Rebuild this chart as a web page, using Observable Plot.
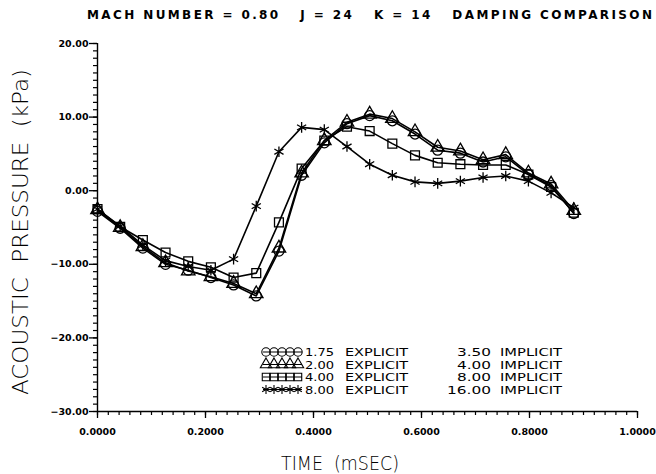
<!DOCTYPE html>
<html><head><meta charset="utf-8">
<script src="https://cdn.jsdelivr.net/npm/d3@7"></script>
<script src="https://cdn.jsdelivr.net/npm/@observablehq/plot@0.6"></script>
<style>
html,body{margin:0;padding:0;background:#fff;}
#chart{width:656px;height:474px;position:relative;}
</style></head><body><div id="chart"></div>
<script>
// ---- data ----
const times = [0, 0.042, 0.084, 0.126, 0.168, 0.21, 0.252, 0.294, 0.336, 0.378, 0.42, 0.462, 0.504, 0.546, 0.588, 0.63, 0.672, 0.714, 0.756, 0.798, 0.84, 0.882];
const circleValues   = [-2.8, -5.1, -7.8, -10.0, -10.8, -11.8, -12.8, -14.3, -8.2, 2.1, 6.5, 9.1, 10.2, 9.5, 7.7, 5.5, 5.1, 3.9, 4.6, 2.2, 0.7, -3.1];
const triangleValues = [-2.6, -5.0, -7.6, -9.8, -10.9, -11.7, -12.6, -14.0, -7.8, 2.4, 6.8, 9.3, 10.4, 9.8, 8.0, 5.9, 5.4, 4.2, 4.9, 2.4, 0.9, -2.7];
const squareValues   = [-2.5, -4.9, -6.7, -8.4, -9.6, -10.4, -11.8, -11.2, -4.3, 3.0, 6.8, 8.7, 8.1, 6.4, 4.8, 3.8, 3.6, 3.5, 3.5, 2.2, 0.5, -3.0];
const starValues     = [-2.5, -4.8, -7.4, -9.5, -10.3, -10.8, -9.3, -2.1, 5.3, 8.6, 8.3, 6.0, 3.6, 2.1, 1.2, 1.0, 1.3, 1.8, 2.0, 1.3, -0.3, -2.3];
const seriesSymbols = ["circle", "triangle", "square", "asterisk"];
const explicitLabels = ["1.75", "2.00", "4.00", "8.00"];
const implicitLabels = ["3.50", "4.00", "8.00", "16.00"];
const yTicks = [20, 10, 0, -10, -20, -30];
const yTickLabels = ["20.00", "10.00", "0.00", "\u221210.00", "\u221220.00", "\u221230.00"];
const xTicks = [0, 0.2, 0.4, 0.6, 0.8, 1.0];
const xTickLabels = ["0.0000", "0.2000", "0.4000", "0.6000", "0.8000", "1.0000"];
const titleText = "MACH NUMBER = 0.80   J = 24   K = 14   DAMPING COMPARISON";
const xLabel = "TIME  (mSEC)";
const yLabel = "ACOUSTIC  PRESSURE  (kPa)";

const allSeries = [circleValues, triangleValues, squareValues, starValues];
const rows = [];
allSeries.forEach((vals, s) => vals.forEach((v, k) => rows.push({t: times[k], p: v, s})));

const FONT = "DejaVu Sans";
const W = 656, H = 474;
const mL = 97, mR = 19, mT = 43, mB = 63;

const chart = Plot.plot({
  width: W, height: H,
  marginLeft: mL, marginRight: mR, marginTop: mT, marginBottom: mB,
  style: {fontFamily: FONT, background: "white", color: "black"},
  x: {domain: [0, 1], label: null},
  y: {domain: [-30, 20], label: null},
  symbol: {domain: [0, 1, 2, 3], range: seriesSymbols},
  marks: [
    Plot.axisY(d3.range(-30, 20.5, 1), {tickSize: 4, tickFormat: () => "", label: null, strokeWidth: 1.2}),
    Plot.axisY(yTicks, {tickSize: 8, tickPadding: 1, label: null, strokeWidth: 1.3,
      tickFormat: d => yTickLabels[yTicks.indexOf(d)], fontSize: 9.5, fontWeight: "bold"}),
    Plot.axisX(d3.range(0, 1.001, 0.02), {tickSize: 4, tickFormat: () => "", label: null, strokeWidth: 1.2}),
    Plot.axisX(xTicks, {tickSize: 7, tickPadding: 10, label: null, strokeWidth: 1.3,
      tickFormat: d => xTickLabels[xTicks.findIndex(v => Math.abs(v - d) < 1e-9)], fontSize: 9.5, fontWeight: "bold"}),
    Plot.ruleX([0], {strokeWidth: 1.4}),
    Plot.ruleY([-30], {strokeWidth: 1.4}),
    Plot.line(rows, {x: "t", y: "p", z: "s", stroke: "black", strokeWidth: 1.6}),
    Plot.dot(rows, {x: "t", y: "p", symbol: "s", r: 5, stroke: "black", strokeWidth: 1.3, fill: "none"})
  ]
});
document.getElementById("chart").appendChild(chart);

const svg = d3.select(chart);
// title
svg.append("text").attr("x", 87).attr("y", 19).attr("text-anchor", "start").attr("font-family", FONT)
  .attr("font-size", 12).attr("font-weight", "bold")
  .attr("textLength", 565).attr("lengthAdjust", "spacing").attr("fill", "black")
  .style("white-space", "pre").text(titleText);
// axis labels
svg.append("text").attr("x", 340).attr("y", 470).attr("text-anchor", "middle")
  .attr("font-family", FONT).attr("font-size", 20).attr("font-weight", 200)
  .attr("textLength", 118).attr("lengthAdjust", "spacingAndGlyphs").attr("fill", "black")
  .style("white-space", "pre").text(xLabel);
svg.append("text").attr("transform", "translate(28,232) rotate(-90)").attr("text-anchor", "middle")
  .attr("font-family", FONT).attr("font-size", 21).attr("font-weight", 200)
  .attr("textLength", 326).attr("lengthAdjust", "spacingAndGlyphs").attr("fill", "black")
  .style("white-space", "pre").text(yLabel);

// legend
const symTypes = {circle: d3.symbolCircle, triangle: d3.symbolTriangle, square: d3.symbolSquare, asterisk: d3.symbolAsterisk};
const legendRowY = [352, 364.5, 377, 389.5];
const lg = svg.append("g");
seriesSymbols.forEach((name, i) => {
  const y = legendRowY[i];
  lg.append("line").attr("x1", 263).attr("x2", 302).attr("y1", y).attr("y2", y).attr("stroke", "black").attr("stroke-width", 1.2);
  const path = d3.symbol(symTypes[name], Math.PI * 4.2 * 4.2)();
  for (let j = 0; j < 5; j++) {
    lg.append("path").attr("d", path).attr("transform", `translate(${266 + j * 8},${y})`)
      .attr("fill", "none").attr("stroke", "black").attr("stroke-width", 1.1);
  }
  const t = (x, txt, anchor, len) => {
    const e = lg.append("text").attr("x", x).attr("y", y + 4).attr("text-anchor", anchor)
      .attr("font-family", FONT).attr("font-size", 10.5).attr("fill", "black").text(txt);
    if (len) e.attr("textLength", len).attr("lengthAdjust", "spacingAndGlyphs");
  };
  t(305, explicitLabels[i], "start", 29);
  t(345, "EXPLICIT", "start", 63);
  t(491, implicitLabels[i], "end", implicitLabels[i].length === 5 ? 44 : 34);
  t(500, "IMPLICIT", "start", 62);
});
</script></body></html>
